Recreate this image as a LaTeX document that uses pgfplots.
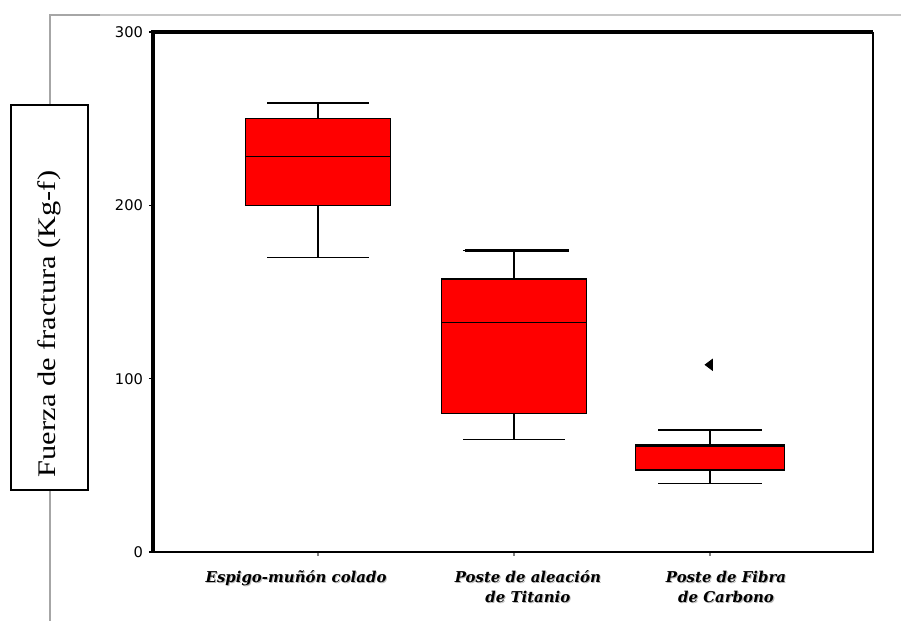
\documentclass[border=0pt]{standalone}
\usepackage{fontspec}
\setmainfont{Liberation Serif}
\newfontfamily\tickfont{DejaVu Sans}
\newfontfamily\catfont{DejaVu Serif}
\usepackage{pgfplots}
\usepgfplotslibrary{statistics}
\pgfplotsset{compat=1.18}
\tikzset{catlab/.style={anchor=north, align=center, font=\catfont\bfseries\itshape\fontsize{11.2}{15}\selectfont},
  catshadow/.style={catlab, text=gray!55, xshift=0.8pt, yshift=-0.8pt}}
\begin{document}
\begin{tikzpicture}[x=0.75pt,y=0.75pt]
\useasboundingbox (0,0) rectangle (901,621);
% decorative frame lines
\draw[gray!70, line width=0.8pt] (50,516) -- (50,606) -- (100,606);
\draw[gray!45, line width=0.8pt] (100,606) -- (901,606);
\draw[gray!70, line width=0.8pt] (50,131) -- (50,0);
\draw[black, line width=1pt, fill=white] (11,131) rectangle (88,516);
\node[rotate=90] at (49.5,297) {\scalebox{1.2}[1]{\fontsize{19pt}{22pt}\selectfont Fuerza de fractura (Kg-f)}};
\begin{axis}[
  at={(114.75pt,51.75pt)}, anchor=south west,
  scale only axis, width=540pt, height=390pt,
  xmin=0.158, xmax=3.832, ymin=0, ymax=300,
  axis line style={draw=none},
  ytick={0,100,200,300},
  xtick={1,2,3}, xticklabels={},
  tick align=outside, major tick length=3pt,
  ytick pos=left, xtick pos=bottom,
  ytick style={black, line width=0.9pt},
  xtick style={gray, line width=0.9pt},
  /pgf/number format/assume math mode=true,
  yticklabel style={font=\tickfont\fontsize{11}{13}\selectfont, xshift=-1pt},
  clip=false,
  boxplot/draw direction=y,
]
% Espigo-muñón colado
\addplot[draw=black, fill=red, line width=1.1pt, mark=none,
  boxplot prepared={draw position=1, lower whisker=170, lower quartile=200,
    median=228, upper quartile=250, upper whisker=259,
    box extend=0.74, whisker extend=0.52},
  boxplot/every median/.style={line width=0.9pt}] coordinates {};
% Poste de aleación de Titanio
\addplot[draw=black, fill=red, line width=1.1pt, mark=none,
  boxplot prepared={draw position=2, lower whisker=65, lower quartile=80,
    median=132.5, upper quartile=157.5, upper whisker=174,
    box extend=0.74, whisker extend=0.52},
  boxplot/every median/.style={line width=0.9pt}] coordinates {};
\addplot[black, line width=2.3pt, mark=none] coordinates {(1.75,174) (2.28,174)};
% Poste de Fibra de Carbono
\addplot[draw=black, fill=red, line width=1.1pt, mark=triangle*,
  mark options={rotate=90, fill=black, draw=black, line width=0.6pt, xscale=1.3},
  mark size=3.6pt,
  boxplot prepared={draw position=3, lower whisker=39.6, lower quartile=47.3,
    median=61.5, upper quartile=62, upper whisker=70.4,
    box extend=0.76, whisker extend=0.53},
  boxplot/every median/.style={line width=2.6pt}] table[row sep=\\, y index=0] {108\\};
% axis frame
\draw[black, line width=1.5pt] (rel axis cs:1,1) -- (rel axis cs:1,0) -- (rel axis cs:0,0);
\draw[black, line width=2.4pt] (rel axis cs:0,0) -- (rel axis cs:0,1) -- (rel axis cs:1,1);
% category labels
\node[catshadow] at (axis cs:0.888,-8.2) {Espigo-muñón colado};
\node[catlab] at (axis cs:0.888,-8.2) {Espigo-muñón colado};
\node[catshadow] at (axis cs:2.071,-8.2) {Poste de aleación\\de Titanio};
\node[catlab] at (axis cs:2.071,-8.2) {Poste de aleación\\de Titanio};
\node[catshadow] at (axis cs:3.082,-8.2) {Poste de Fibra\\de Carbono};
\node[catlab] at (axis cs:3.082,-8.2) {Poste de Fibra\\de Carbono};
\end{axis}
\end{tikzpicture}
\end{document}
